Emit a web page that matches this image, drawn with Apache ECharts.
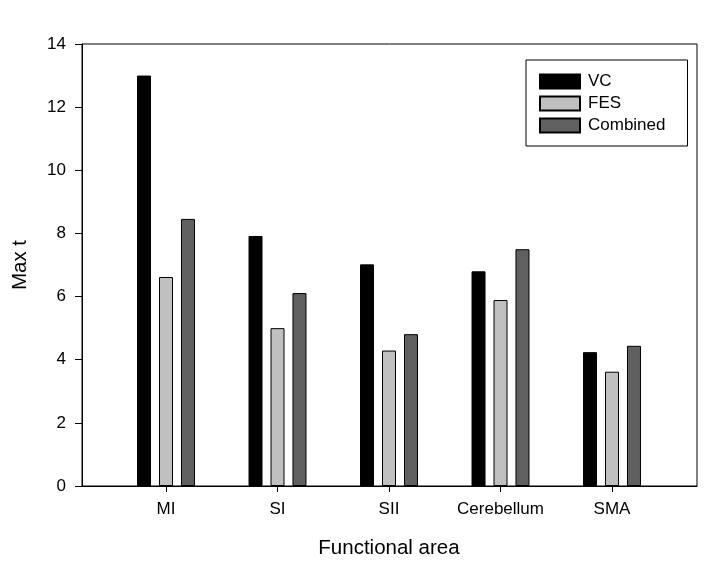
<!DOCTYPE html>
<html>
<head>
<meta charset="utf-8">
<script src="https://cdn.jsdelivr.net/npm/echarts@6/dist/echarts.min.js"></script>
<style>html,body{margin:0;padding:0;background:#fff}#c{width:719px;height:561px}</style>
</head>
<body>
<div id="c"></div>
<script>
var categories = ['MI', 'SI', 'SII', 'Cerebellum', 'SMA'];
var vcValues = [13.0, 7.92, 7.02, 6.80, 4.24];
var fesValues = [6.62, 5.0, 4.29, 5.89, 3.62];
var combinedValues = [8.46, 6.11, 4.81, 7.50, 4.44];
var seriesNames = ['VC', 'FES', 'Combined'];
var yTicks = [0, 2, 4, 6, 8, 10, 12, 14];

var font = 'Liberation Sans, Arial, sans-serif';
var chart = echarts.init(document.getElementById('c'), null, {renderer: 'canvas'});
var colors = ['#000000', '#c0c0c0', '#606060'];
var dataSets = [vcValues, fesValues, combinedValues];

chart.setOption({
  animation: false,
  backgroundColor: '#fff',
  textStyle: {fontFamily: font},
  legend: {
    orient: 'vertical',
    left: 526, top: 60,
    padding: [13, 22, 12, 13],
    borderColor: '#000', borderWidth: 1,
    icon: 'rect',
    itemWidth: 40, itemHeight: 14, itemGap: 5,
    textStyle: {fontSize: 17, color: '#000', fontFamily: font, padding: [0, 0, 0, 3]},
    data: seriesNames
  },
  grid: [
    {left: 82, right: 22, top: 44, bottom: 75, show: true, borderColor: '#000', borderWidth: 1, backgroundColor: 'transparent', containLabel: false, outerBoundsMode: 'none'},
    {left: 110.25, right: 51.25, top: 44, bottom: 75, containLabel: false, outerBoundsMode: 'none'}
  ],
  xAxis: [
    {gridIndex: 0, type: 'category', data: categories, axisLine: {show: true, lineStyle: {color: '#000'}}, axisTick: {show: false}, axisLabel: {show: false}, splitLine: {show: false}},
    {gridIndex: 1, type: 'category', data: categories,
     axisLine: {show: false}, axisTick: {show: true, interval: 0, alignWithLabel: true, length: 6, lineStyle: {color: '#000'}},
     axisLabel: {interval: 0, hideOverlap: false, fontSize: 17, color: '#000', margin: 15, fontFamily: font},
     name: 'Functional area', nameLocation: 'middle', nameGap: 52,
     nameTextStyle: {fontSize: 20.5, color: '#000', fontFamily: font}}
  ],
  yAxis: [
    {gridIndex: 0, type: 'value', min: 0, max: 14, interval: 2,
     axisLine: {show: true, lineStyle: {color: '#000'}},
     axisTick: {show: true, length: 7, lineStyle: {color: '#000'}},
     axisLabel: {fontSize: 17, color: '#000', margin: 16, fontFamily: font,
       formatter: function (v) { return yTicks.indexOf(v) >= 0 ? String(v) : ''; }},
     splitLine: {show: false},
     name: 'Max t', nameLocation: 'middle', nameGap: 51, nameRotate: 90,
     nameTextStyle: {fontSize: 20.5, color: '#000', fontFamily: font}},
    {gridIndex: 1, type: 'value', min: 0, max: 14, show: false, splitLine: {show: false}}
  ],
  series: seriesNames.map(function (n, i) {
    return {
      name: n, type: 'bar', xAxisIndex: 1, yAxisIndex: 1,
      barWidth: 14, barGap: '57%',
      itemStyle: {color: colors[i], borderColor: '#000', borderWidth: 1},
      data: dataSets[i]
    };
  })
});
</script>
</body>
</html>
